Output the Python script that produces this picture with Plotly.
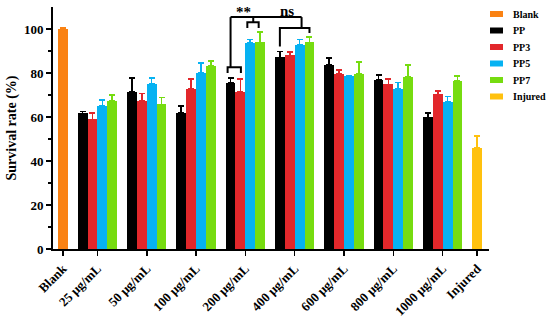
import plotly.graph_objects as go

# ---------------- data ----------------
categories = ["25 μg/mL", "50 μg/mL", "100 μg/mL", "200 μg/mL",
              "400 μg/mL", "600 μg/mL", "800 μg/mL", "1000 μg/mL"]
series_names = ["PP", "PP3", "PP5", "PP7"]

blank_value = [100.0]
blank_err = [0.6]
injured_value = [45.9]
injured_err = [5.4]

pp_values = [61.6, 71.4, 61.9, 75.4, 87.1, 83.6, 77.0, 59.8]
pp_err = [0.9, 6.2, 3.1, 2.3, 2.7, 3.1, 2.1, 2.1]
pp3_values = [58.9, 67.4, 72.9, 71.5, 88.0, 79.7, 74.8, 70.3]
pp3_err = [3.0, 3.2, 4.4, 5.8, 1.6, 1.7, 2.5, 1.5]
pp5_values = [65.1, 75.1, 80.0, 93.7, 92.8, 78.6, 72.9, 66.8]
pp5_err = [2.6, 2.6, 4.5, 1.5, 2.4, 0.3, 2.7, 2.6]
pp7_values = [67.4, 65.7, 83.3, 93.9, 93.9, 79.7, 78.2, 76.4]
pp7_err = [2.7, 3.2, 2.2, 4.8, 2.5, 5.3, 5.4, 2.2]

y_ticks = [0, 20, 40, 60, 80, 100]

colors = {"Blank": "#FA8213", "PP": "#000000", "PP3": "#E2272B",
          "PP5": "#06B2F2", "PP7": "#76DC10", "Injured": "#FFC10E"}

# ---------------- layout helpers (slot positions) ----------------
SLOTS_PER_GROUP = 5
def slot(k, j):
    return 2 + SLOTS_PER_GROUP * k + j

blank_x = [0]
injured_x = [slot(len(categories), 0)]
group_centers = [slot(k, 1.5) for k in range(len(categories))]

FONT = "Liberation Serif, Times New Roman, serif"

fig = go.Figure()

def add_bar(name, xs, ys, errs):
    c = colors[name]
    fig.add_trace(go.Bar(
        x=xs, y=ys, name=name, width=1.0, marker=dict(color=c, line=dict(width=0)),
        error_y=dict(type="data", symmetric=False, array=errs,
                     arrayminus=[0] * len(errs), color=c, thickness=1.6, width=3),
        showlegend=False))

add_bar("Blank", blank_x, blank_value, blank_err)
for j, (nm, vals, errs) in enumerate(zip(series_names,
                                          [pp_values, pp3_values, pp5_values, pp7_values],
                                          [pp_err, pp3_err, pp5_err, pp7_err])):
    add_bar(nm, [slot(k, j) for k in range(len(categories))], vals, errs)
add_bar("Injured", injured_x, injured_value, injured_err)

# ---------------- significance brackets ----------------
k200, k400 = 3, 4
top_level = 105.4
line = dict(color="black", width=2)

def path(points):
    d = "M " + " L ".join(f"{x},{y}" for x, y in points)
    fig.add_shape(type="path", path=d, xref="x", yref="y", line=line)

# PP vs PP3 at 200
a0, a1, ay, ab = slot(k200, 0) - 0.3, slot(k200, 1) + 0.05, 82.6, 80.0
path([(a0, ab), (a0, ay), (a1, ay), (a1, ab)])
stem_a = slot(k200, 0)
path([(stem_a, ay), (stem_a, top_level)])
# PP5 vs PP7 at 200
b0, b1, by, bb = slot(k200, 2) - 0.3, slot(k200, 3) - 0.15, 103.1, 100.5
path([(b0, bb), (b0, by), (b1, by), (b1, bb)])
stem_b = slot(k200, 2.3)
path([(stem_b, by), (stem_b, top_level)])
# 400 group
c0, c1, cy = slot(k400, 0), slot(k400, 3), 100.4
path([(c0, 92.1), (c0, cy), (c1, cy), (c1, 98.2)])
stem_c = slot(k400, 2.2)
path([(stem_c, cy), (stem_c, top_level)])
# top connecting line
path([(stem_a, top_level), (stem_c, top_level)])

fig.add_annotation(x=slot(k200, 1.3), y=107.6, text="<b>**</b>", showarrow=False,
                   xref="x", yref="y", font=dict(family=FONT, size=15, color="black"))
fig.add_annotation(x=slot(k400, 0.7), y=108.0, text="<b>ns</b>", showarrow=False,
                   xref="x", yref="y", font=dict(family=FONT, size=15, color="black"))

# ---------------- geometry ----------------
W, H = 550, 320
PLOT_L, PLOT_R, PLOT_T, PLOT_B = 53, 489, 7, 249     # pixels
ML, MR, MT, MB = PLOT_L, W - PLOT_R, PLOT_T, H - PLOT_B
pw, ph = PLOT_R - PLOT_L, PLOT_B - PLOT_T

def px_to_paper(px, py):
    return (px - PLOT_L) / pw, (PLOT_B - py) / ph

legend_names = ["Blank", "PP", "PP3", "PP5", "PP7", "Injured"]
for i, nm in enumerate(legend_names):
    cy_px = 14 + i * 16.5
    x0, y0 = px_to_paper(490, cy_px + 3)
    x1, y1 = px_to_paper(503, cy_px - 3)
    fig.add_shape(type="rect", xref="paper", yref="paper", x0=x0, y0=y0, x1=x1, y1=y1,
                  line=dict(width=0), fillcolor=colors[nm])
    tx, ty = px_to_paper(511, cy_px)
    fig.add_annotation(x=tx, y=ty, xref="paper", yref="paper", text=f"<b>{nm}</b>",
                       showarrow=False, xanchor="left", yanchor="middle",
                       font=dict(family=FONT, size=10, color="black"))

fig.update_layout(
    width=W, height=H, margin=dict(l=ML, r=MR, t=MT, b=MB, autoexpand=False),
    paper_bgcolor="white", plot_bgcolor="white", barmode="overlay", bargap=0,
    showlegend=False, hovermode=False,
    xaxis=dict(range=[-1.0, 43.2], tickmode="array", automargin=False,
               tickvals=[blank_x[0]] + group_centers + [injured_x[0]],
               ticktext=["<b>Blank</b>"] + [f"<b>{c}</b>" for c in categories] + ["<b>Injured</b>"],
               tickangle=-45, ticks="outside", ticklen=5, tickwidth=1.6, tickcolor="black",
               showline=True, linecolor="black", linewidth=2, showgrid=False, zeroline=False,
               tickfont=dict(family=FONT, size=13, color="black")),
    yaxis=dict(range=[0, 110], tickmode="array", tickvals=y_ticks, automargin=False,
               ticktext=[f"<b>{v}</b>" for v in y_ticks],
               ticks="outside", ticklen=5, tickwidth=1.6, tickcolor="black",
               minor=dict(tickmode="array", tickvals=[10, 30, 50, 70, 90], ticks="outside",
                          ticklen=3, tickwidth=1.6, tickcolor="black"),
               showline=True, linecolor="black", linewidth=2, showgrid=False, zeroline=False,
               tickfont=dict(family=FONT, size=13, color="black"),
               title=dict(text="<b>Survival rate (%)</b>", standoff=4,
                          font=dict(family=FONT, size=14, color="black"))),
)

fig.write_html("out.html", config={"displayModeBar": False, "staticPlot": True},
               post_script="document.body.style.margin='0';document.body.style.overflow='hidden';")
